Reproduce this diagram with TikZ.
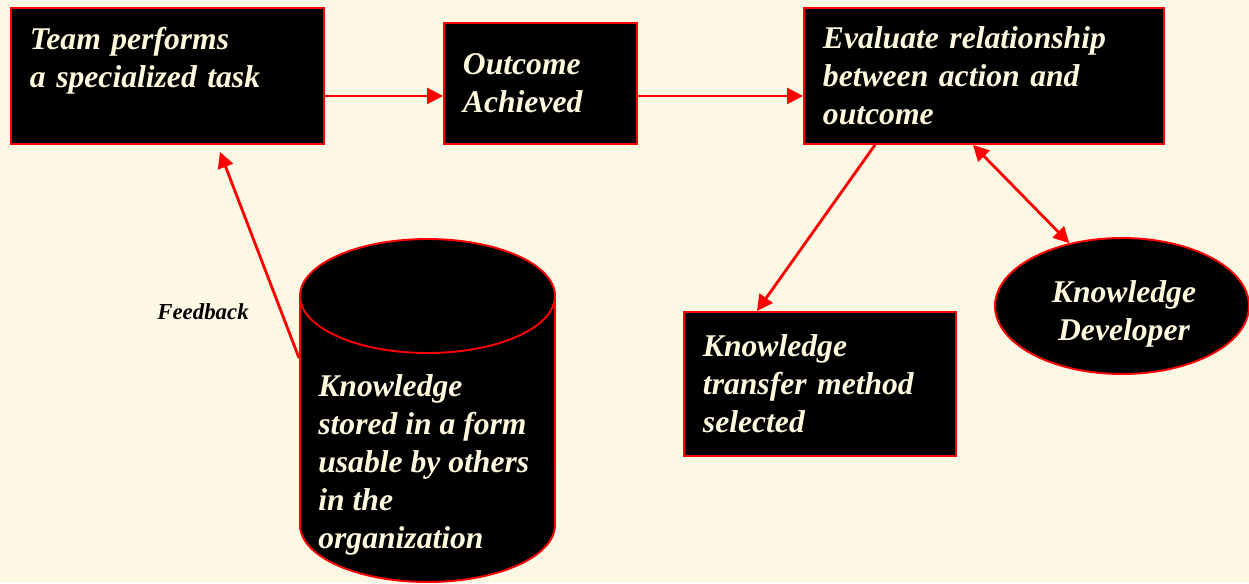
\documentclass[tikz,border=0pt]{standalone}
\usepackage{fontspec}
\setmainfont{Liberation Serif}
\usepackage{xcolor}
\usepackage{tikz}
\usetikzlibrary{arrows, arrows.meta, shapes.geometric}

\definecolor{paper}{RGB}{253,248,228}
\definecolor{cream}{RGB}{255,250,222}

\begin{document}
\begin{tikzpicture}[x=0.02cm, y=-0.02cm,
  blackbox/.style={draw=red, line width=1.1pt, fill=black, text=cream, anchor=north west,
    inner xsep=0.38cm, inner ysep=0pt, align=left,
    font=\fontsize{18}{21.6}\selectfont\bfseries\itshape},
  flow/.style={red, line width=1.6pt, -{Triangle[length=9pt,width=9pt]}}]
\fill[paper] (0,0) rectangle (1249,583);
\useasboundingbox (0,0) rectangle (1249,583);
% boxes of the process
\node[blackbox, minimum width=6.26cm, minimum height=2.72cm, text width=5.5cm] (team) at (10,7)
  {Team performs\\a specialized task\\\mbox{}};
\node[blackbox, minimum width=3.86cm, minimum height=2.42cm, text width=3.1cm] (outc) at (443,22)
  {Outcome\\Achieved};
\node[blackbox, minimum width=7.2cm, minimum height=2.72cm, text width=6.44cm] (eval) at (803,7)
  {Evaluate relationship\\between action and\\outcome};
\node[blackbox, minimum width=5.44cm, minimum height=2.88cm, text width=4.68cm] (xfer) at (683,311)
  {Knowledge\\transfer method\\selected\\[-8pt]};
\node[ellipse, draw=red, line width=1.1pt, fill=black, inner sep=0pt,
  minimum width=5.08cm, minimum height=2.72cm] (dev) at (1122,306) {};
\node[text=cream, align=center, font=\fontsize{18}{21.6}\selectfont\bfseries\itshape] (devtxt)
  at (1124,314) {Knowledge\\Developer};
% the store
\draw[red, line width=1.1pt, fill=black] (300,296) -- (300,525)
  arc[start angle=180, end angle=360, x radius=2.55cm, y radius=1.14cm] -- (555,296)
  arc[start angle=0, end angle=180, x radius=2.55cm, y radius=1.14cm] -- cycle;
\draw[red, line width=1.1pt] (300,296)
  arc[start angle=180, end angle=360, x radius=2.55cm, y radius=1.14cm];
\node[anchor=north west, inner sep=0pt, text=cream, align=left,
  font=\fontsize{18}{21.6}\selectfont\bfseries\itshape] (store) at (318,374)
  {Knowledge\\stored in a form\\usable by others\\in the\\organization};
% connectors
\draw[flow] ([yshift=-0.4cm]team.east) -- ([yshift=-0.4cm]team.east -| outc.west);
\draw[flow] ([yshift=-0.25cm]outc.east) -- ([yshift=-0.25cm]outc.east -| eval.west);
\draw[flow] ([xshift=1.44cm]eval.south west) -- ([xshift=1.48cm]xfer.north west);
\draw[flow, {Triangle[length=9pt,width=9pt]}-{Triangle[length=9pt,width=9pt]}]
  ([xshift=3.4cm]eval.south west) -- (dev.130);
\coordinate (fbstart) at (299,358);
\draw[flow] (fbstart) -- ([xshift=4.2cm,yshift=-0.14cm]team.south west);
\node[font=\fontsize{13}{15}\selectfont\bfseries\itshape] (fblabel) at (203,312) {Feedback};
\end{tikzpicture}
\end{document}
